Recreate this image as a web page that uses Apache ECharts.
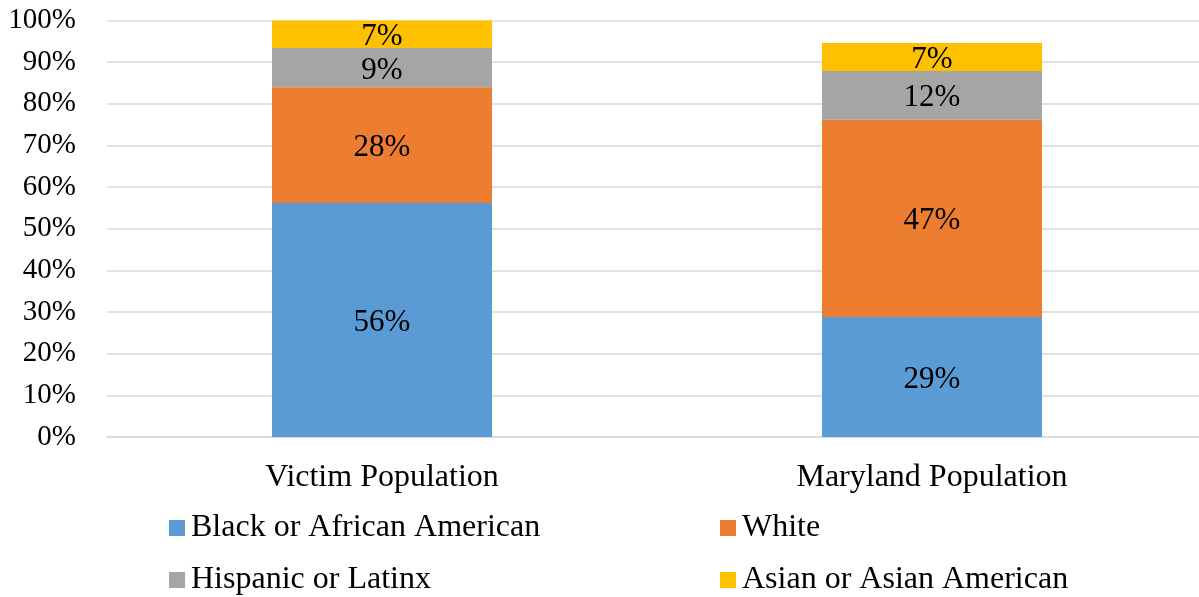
<!DOCTYPE html>
<html>
<head>
<meta charset="utf-8">
<script src="https://cdn.jsdelivr.net/npm/echarts@6/dist/echarts.min.js"></script>
<style>html,body{margin:0;padding:0;background:#fff}#c{width:1199px;height:597px}</style>
</head>
<body>
<div id="c"></div>
<script>
const categories = ['Victim Population', 'Maryland Population'];
const seriesNames = ['Black or African American', 'White', 'Hispanic or Latinx', 'Asian or Asian American'];
const black = [56.2, 28.8];
const white = [27.8, 47.4];
const hispanic = [9.4, 11.7];
const asian = [6.6, 6.7];
const yTicks = [0, 10, 20, 30, 40, 50, 60, 70, 80, 90, 100];

const colors = ['#5B9BD5', '#ED7D31', '#A5A5A5', '#FFC000'];
const FONT = '"Liberation Serif", "Times New Roman", serif';
const values = [black, white, hispanic, asian];

const chart = echarts.init(document.getElementById('c'), null, {renderer: 'canvas'});
const legendPos = [
  {left: 169, top: 512},
  {left: 720, top: 512},
  {left: 169, top: 564},
  {left: 720, top: 564}
];
chart.setOption({
  animation: false,
  backgroundColor: '#fff',
  color: colors,
  grid: {left: 107, right: -8, top: 20.5, bottom: 160, containLabel: false, outerBoundsMode: 'none'},
  xAxis: {
    type: 'category',
    data: categories,
    axisLine: {show: true, lineStyle: {color: '#D9D9D9', width: 1.5}},
    axisTick: {show: false},
    axisLabel: {fontFamily: FONT, fontSize: 32, color: '#000', margin: 25}
  },
  yAxis: {
    type: 'value',
    min: yTicks[0],
    max: yTicks[yTicks.length - 1],
    interval: 10,
    axisLine: {show: false},
    axisTick: {show: false},
    splitLine: {lineStyle: {color: '#D9D9D9', width: 1.5}},
    axisLabel: {fontFamily: FONT, fontSize: 29, color: '#000', margin: 31, formatter: v => v + '%'}
  },
  legend: seriesNames.map((n, i) => ({
    data: [n],
    left: legendPos[i].left,
    top: legendPos[i].top,
    padding: 0,
    itemWidth: 16,
    itemHeight: 16,
    icon: 'rect',
    textStyle: {fontFamily: FONT, fontSize: 32, color: '#000', padding: [0, 0, 0, 1]}
  })),
  series: seriesNames.map((n, i) => ({
    name: n,
    type: 'bar',
    stack: 'total',
    barWidth: 220,
    data: values[i],
    itemStyle: {color: colors[i]},
    label: {
      show: true,
      position: 'inside',
      fontFamily: FONT,
      fontSize: 31,
      color: '#000',
      offset: [0, 3],
      formatter: p => Math.round(p.value) + '%'
    }
  }))
});
</script>
</body>
</html>
